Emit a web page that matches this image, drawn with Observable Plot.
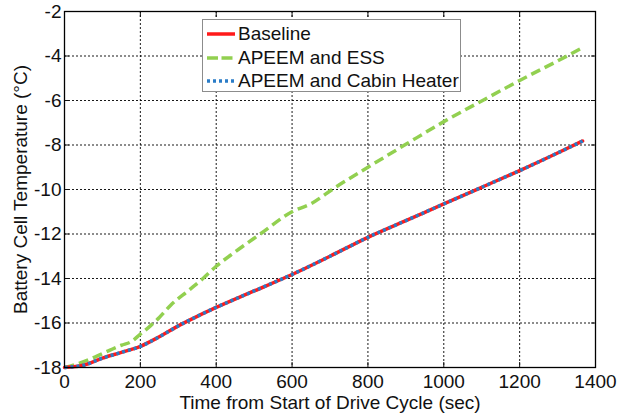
<!DOCTYPE html>
<html>
<head>
<meta charset="utf-8">
<script src="https://cdn.jsdelivr.net/npm/d3@7"></script>
<script src="https://cdn.jsdelivr.net/npm/@observablehq/plot@0.6"></script>
<style>
  html, body { margin: 0; padding: 0; background: #fff; }
  #wrap { position: relative; width: 618px; height: 414px; font-family: "Liberation Sans", Arial, sans-serif; }
  #legend { position: absolute; left: 202px; top: 19px; width: 259px; height: 73px; background: #fff; border: 1px solid #8c8c8c; box-sizing: border-box; font-size: 19px; color: #111; }
  .row { position: absolute; left: 4px; height: 22px; display: flex; align-items: center; white-space: nowrap; }
  .row svg { margin-right: 3px; }
</style>
</head>
<body>
<div id="wrap"></div>
<script>
// Time (s) and battery cell temperature (°C)
const baselineTime = [0, 50, 100, 150, 200, 250, 300, 350, 400, 500, 600, 700, 800, 900, 1000, 1100, 1200, 1300, 1366];
const baselineTemp = [-18, -17.9, -17.58, -17.32, -17.05, -16.62, -16.13, -15.7, -15.3, -14.56, -13.82, -13.0, -12.15, -11.4, -10.65, -9.9, -9.15, -8.36, -7.82];

const essTime = [0, 40, 80, 120, 150, 175, 200, 225, 250, 280, 330, 365, 400, 450, 516, 600, 650, 710, 800, 900, 1000, 1100, 1200, 1325, 1368];
const essTemp = [-18, -17.8, -17.53, -17.22, -17.0, -16.85, -16.5, -16.15, -15.75, -15.2, -14.5, -14.0, -13.45, -12.8, -12.0, -11.0, -10.64, -9.95, -9.0, -7.97, -6.95, -6.02, -5.1, -4.0, -3.6];

const cabinTime = [0, 50, 100, 150, 200, 250, 300, 350, 400, 500, 600, 700, 800, 900, 1000, 1100, 1200, 1300, 1366];
const cabinTemp = [-18, -17.9, -17.58, -17.32, -17.05, -16.62, -16.13, -15.7, -15.3, -14.56, -13.82, -13.0, -12.15, -11.4, -10.65, -9.9, -9.15, -8.36, -7.82];

const seriesNames = ["Baseline", "APEEM and ESS", "APEEM and Cabin Heater"];
const seriesColors = ["#ff1a1a", "#92d050", "#2a7cc7"];

const xTicks = [0, 200, 400, 600, 800, 1000, 1200, 1400];
const yTicks = [-18, -16, -14, -12, -10, -8, -6, -4, -2];
const xLabel = "Time from Start of Drive Cycle (sec)";
const yLabel = "Battery Cell Temperature (°C)";

const toRows = (ts, vs, s) => ts.map((t, i) => ({time: t, temp: vs[i], series: s}));
const baseline = toRows(baselineTime, baselineTemp, seriesNames[0]);
const ess = toRows(essTime, essTemp, seriesNames[1]);
const cabin = toRows(cabinTime, cabinTemp, seriesNames[2]);

const fmt = d => String(d);

const chart = Plot.plot({
  width: 618,
  height: 414,
  marginLeft: 64,
  marginRight: 23,
  marginTop: 11,
  marginBottom: 47,
  style: {fontFamily: "'Liberation Sans', Arial, sans-serif", fontSize: "19px", color: "#111", background: "#fff"},
  x: {domain: [0, 1400]},
  y: {domain: [-18, -2]},
  marks: [
    Plot.gridX(xTicks, {stroke: "#000", strokeOpacity: 0.9, strokeDasharray: "2,2", strokeWidth: 1}),
    Plot.gridY(yTicks, {stroke: "#000", strokeOpacity: 0.9, strokeDasharray: "2,2", strokeWidth: 1}),
    Plot.axisX(xTicks, {anchor: "bottom", tickSize: 0, tickPadding: 7, tickFormat: fmt, fontSize: 19,
      label: xLabel, labelAnchor: "center", labelOffset: 41, labelArrow: "none"}),
    Plot.axisY(yTicks, {anchor: "left", tickSize: 0, tickPadding: 3, tickFormat: fmt, fontSize: 19,
      label: yLabel, labelAnchor: "center", labelOffset: 51, labelArrow: "none"}),
    Plot.axisX(xTicks, {anchor: "bottom", tickSize: -5, tickFormat: () => "", label: null}),
    Plot.axisX(xTicks, {anchor: "top", tickSize: -5, tickFormat: () => "", label: null}),
    Plot.axisY(yTicks, {anchor: "left", tickSize: -5, tickFormat: () => "", label: null}),
    Plot.axisY(yTicks, {anchor: "right", tickSize: -5, tickFormat: () => "", label: null}),
    Plot.line(ess, {x: "time", y: "temp", stroke: seriesColors[1], strokeWidth: 3.5, strokeDasharray: "10,5", strokeLinecap: "butt", curve: "monotone-x"}),
    Plot.line(baseline, {x: "time", y: "temp", stroke: seriesColors[0], strokeWidth: 3.5, curve: "monotone-x"}),
    Plot.line(cabin, {x: "time", y: "temp", stroke: seriesColors[2], strokeWidth: 3.5, strokeDasharray: "3,3", strokeLinecap: "butt", curve: "monotone-x"}),
    Plot.frame({stroke: "#000", strokeWidth: 1.3})
  ]
});

const wrap = document.getElementById("wrap");
wrap.appendChild(chart);

// Legend overlay
const legend = document.createElement("div");
legend.id = "legend";
const dashes = [null, "11,3.5", "3,3"];
seriesNames.forEach((name, i) => {
  const row = document.createElement("div");
  row.className = "row";
  row.style.top = (3 + i * 23.5) + "px";
  const ns = "http://www.w3.org/2000/svg";
  const svg = document.createElementNS(ns, "svg");
  svg.setAttribute("width", "28");
  svg.setAttribute("height", "10");
  const ln = document.createElementNS(ns, "line");
  ln.setAttribute("x1", "0"); ln.setAttribute("x2", "28");
  ln.setAttribute("y1", "5"); ln.setAttribute("y2", "5");
  ln.setAttribute("stroke", seriesColors[i]);
  ln.setAttribute("stroke-width", "3.5");
  if (dashes[i]) ln.setAttribute("stroke-dasharray", dashes[i]);
  svg.appendChild(ln);
  row.appendChild(svg);
  const span = document.createElement("span");
  span.textContent = name;
  row.appendChild(span);
  legend.appendChild(row);
});
wrap.appendChild(legend);
</script>
</body>
</html>
